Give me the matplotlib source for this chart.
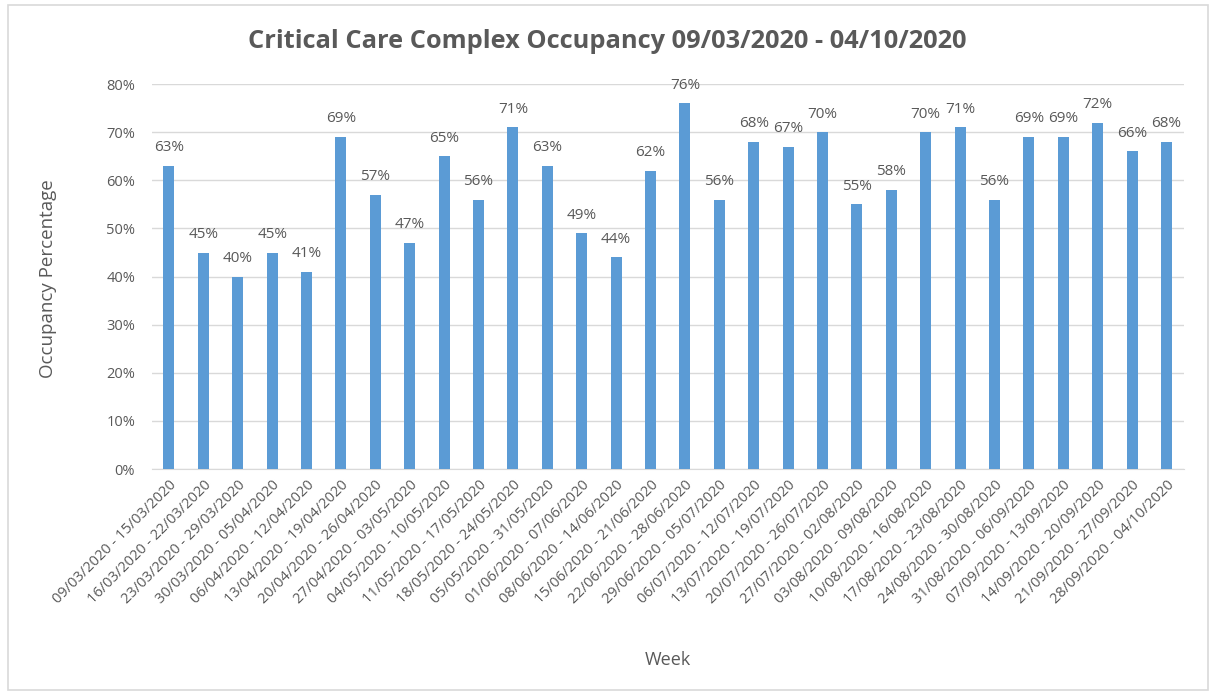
import matplotlib.pyplot as plt
from matplotlib.patches import Rectangle
from matplotlib.ticker import PercentFormatter

plt.rcParams['font.family'] = ['Open Sans', 'DejaVu Sans']

weeks = [
    "09/03/2020 - 15/03/2020", "16/03/2020 - 22/03/2020", "23/03/2020 - 29/03/2020",
    "30/03/2020 - 05/04/2020", "06/04/2020 - 12/04/2020", "13/04/2020 - 19/04/2020",
    "20/04/2020 - 26/04/2020", "27/04/2020 - 03/05/2020", "04/05/2020 - 10/05/2020",
    "11/05/2020 - 17/05/2020", "18/05/2020 - 24/05/2020", "05/05/2020 - 31/05/2020",
    "01/06/2020 - 07/06/2020", "08/06/2020 - 14/06/2020", "15/06/2020 - 21/06/2020",
    "22/06/2020 - 28/06/2020", "29/06/2020 - 05/07/2020", "06/07/2020 - 12/07/2020",
    "13/07/2020 - 19/07/2020", "20/07/2020 - 26/07/2020", "27/07/2020 - 02/08/2020",
    "03/08/2020 - 09/08/2020", "10/08/2020 - 16/08/2020", "17/08/2020 - 23/08/2020",
    "24/08/2020 - 30/08/2020", "31/08/2020 - 06/09/2020", "07/09/2020 - 13/09/2020",
    "14/09/2020 - 20/09/2020", "21/09/2020 - 27/09/2020", "28/09/2020 - 04/10/2020",
]
occupancy = [63, 45, 40, 45, 41, 69, 57, 47, 65, 56, 71, 63, 49, 44, 62,
             76, 56, 68, 67, 70, 55, 58, 70, 71, 56, 69, 69, 72, 66, 68]

TEXT = "#595959"
BAR = "#5B9BD5"
GRID = "#D9D9D9"

fig = plt.figure(figsize=(12.14, 6.95), dpi=100)
fig.patch.set_facecolor("white")
fig.patches.append(Rectangle((8 / 1214, 5 / 695), 1200 / 1214, 685 / 695,
                             transform=fig.transFigure, fill=False,
                             edgecolor=GRID, linewidth=1.2))

ax = fig.add_axes([0.125, 0.325, 0.85, 0.554])
x = list(range(len(weeks)))
ax.bar(x, occupancy, width=0.32, color=BAR, zorder=3)

for xi, v in zip(x, occupancy):
    ax.text(xi, v + 2.2, f"{v}%", ha="center", va="bottom", fontsize=11, color=TEXT)

ax.set_xlim(-0.5, len(weeks) - 0.5)
ax.set_ylim(0, 80)
ax.set_yticks(range(0, 81, 10))
ax.yaxis.set_major_formatter(PercentFormatter(decimals=0))
ax.grid(axis="y", color=GRID, linewidth=1, zorder=0)
for s in ["top", "right", "left"]:
    ax.spines[s].set_visible(False)
ax.spines["bottom"].set_color(GRID)
ax.tick_params(axis="both", length=0, colors=TEXT, labelsize=10.5)
ax.tick_params(axis="y", pad=12)
ax.set_xticks(x)
ax.set_xticklabels(weeks, rotation=45, ha="right", rotation_mode="anchor")
ax.tick_params(axis="x", pad=6)

fig.text(48 / 1214, 1 - 279 / 695, "Occupancy Percentage", rotation=90,
         ha="center", va="center", fontsize=13.5, color=TEXT)
fig.text(668 / 1214, 1 - 660 / 695, "Week", ha="center", va="center",
         fontsize=13, color=TEXT)
fig.text(607 / 1214, 1 - 42 / 695,
         "Critical Care Complex Occupancy 09/03/2020 - 04/10/2020",
         ha="center", va="center", fontsize=18.3, fontweight="bold", color=TEXT)

fig.savefig("out.png", dpi=100, facecolor="white")
